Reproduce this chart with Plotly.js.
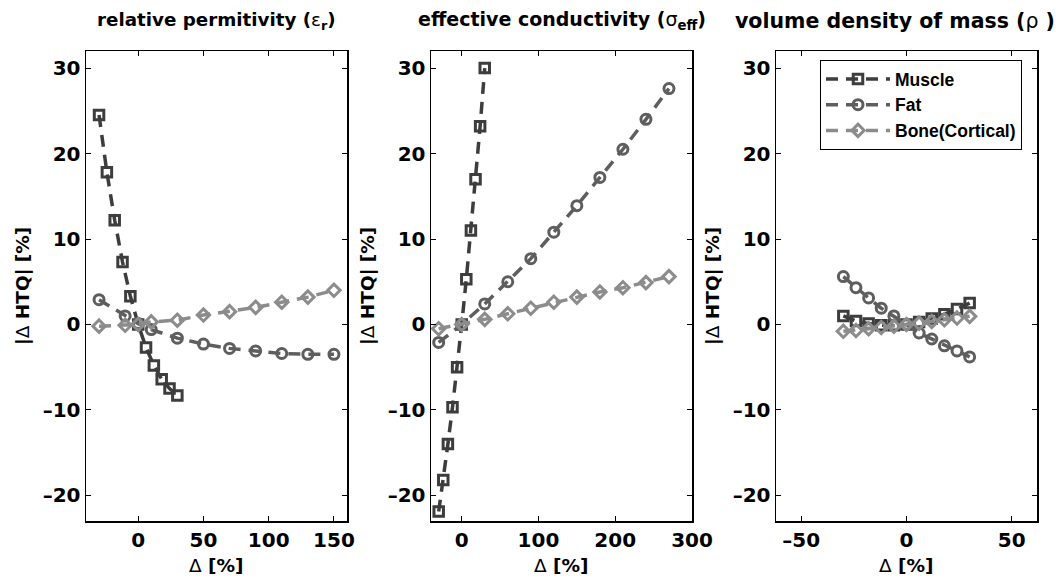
<!DOCTYPE html>
<html>
<head>
<meta charset="utf-8">
<script src="https://cdn.plot.ly/plotly-3.0.1.min.js"></script>
<style>html,body{margin:0;padding:0;background:#fff;}#chart{width:1056px;height:583px;}</style>
</head>
<body>
<div id="chart"></div>
<script>
// ---------- data ----------
const seriesNames = ['Muscle', 'Fat', 'Bone(Cortical)'];
const panelTitles = ['relative permitivity (<span style="font-weight:normal">ε</span><sub>r</sub>)',
                     'effective conductivity (<span style="font-weight:normal">σ</span><sub>eff</sub>)',
                     'volume density of mass (<span style="font-weight:normal">ρ</span> )'];

// Muscle deviations (all panels)
const muscleDelta = [-30, -24, -18, -12, -6, 0, 6, 12, 18, 24, 30];

// Panel 1: relative permittivity
const epsOtherDelta = [-30, -10, 0, 10, 30, 50, 70, 90, 110, 130, 150];
const epsMuscle = [24.5, 17.8, 12.2, 7.3, 3.3, 0, -2.7, -4.8, -6.4, -7.5, -8.3];
const epsFat    = [2.9, 1.0, 0.1, -0.6, -1.6, -2.3, -2.8, -3.1, -3.4, -3.5, -3.5];
const epsBone   = [-0.2, -0.1, 0, 0.3, 0.5, 1.1, 1.5, 2.0, 2.6, 3.2, 4.0];

// Panel 2: effective conductivity
const sigOtherDelta = [-30, 0, 30, 60, 90, 120, 150, 180, 210, 240, 270];
const sigMuscle = [-21.9, -18.2, -14.0, -9.7, -5.0, 0, 5.3, 11.0, 17.0, 23.2, 30.0];
const sigFat    = [-2.1, 0, 2.4, 5.0, 7.7, 10.8, 13.9, 17.2, 20.5, 24.0, 27.6];
const sigBone   = [-0.5, 0, 0.6, 1.25, 1.9, 2.6, 3.2, 3.8, 4.3, 4.9, 5.6];

// Panel 3: volume density of mass
const rhoDelta  = [-30, -24, -18, -12, -6, 0, 6, 12, 18, 24, 30];
const rhoMuscle = [1.0, 0.4, 0.1, -0.1, -0.1, 0, 0.3, 0.7, 1.2, 1.8, 2.5];
const rhoFat    = [5.6, 4.3, 3.1, 1.9, 1.0, 0, -1.0, -1.7, -2.5, -3.1, -3.8];
const rhoBone   = [-0.8, -0.7, -0.5, -0.35, -0.2, 0, 0.15, 0.35, 0.55, 0.75, 0.95];

const yTickVals = [-20, -10, 0, 10, 20, 30];
const xTicks1 = [0, 50, 100, 150];
const xTicks2 = [0, 100, 200, 300];
const xTicks3 = [-50, 0, 50];

// ---------- styling ----------
const WIDE = 'DejaVu Sans, Verdana, sans-serif';
const NARROW = 'Liberation Sans, Arial, Helvetica, sans-serif';
const colors = ['#3d3d3d', '#5e5e5e', '#8c8c8c'];
const symbols = ['square-open', 'circle-open', 'diamond-open'];
const msizes = [9.5, 10, 9.5];

function tr(x, y, i, xa, ya, showLegend) {
  return {
    x: x, y: y, type: 'scatter', mode: 'lines+markers',
    name: seriesNames[i], legendgroup: seriesNames[i], showlegend: showLegend,
    xaxis: xa, yaxis: ya,
    line: {color: colors[i], width: 3.5, dash: '12px,8px'},
    marker: {symbol: symbols[i], size: msizes[i], color: colors[i], line: {color: colors[i], width: 3}},
    hoverinfo: 'x+y'
  };
}

const data = [
  tr(muscleDelta, epsMuscle, 0, 'x', 'y', true),
  tr(epsOtherDelta, epsFat, 1, 'x', 'y', true),
  tr(epsOtherDelta, epsBone, 2, 'x', 'y', true),
  tr(muscleDelta, sigMuscle, 0, 'x2', 'y2', false),
  tr(sigOtherDelta, sigFat, 1, 'x2', 'y2', false),
  tr(sigOtherDelta, sigBone, 2, 'x2', 'y2', false),
  tr(rhoDelta, rhoMuscle, 0, 'x3', 'y3', false),
  tr(rhoDelta, rhoFat, 1, 'x3', 'y3', false),
  tr(rhoDelta, rhoBone, 2, 'x3', 'y3', false)
];

const tickFont = {family: WIDE, size: 20, color: '#000', weight: 'bold'};
const fmt = v => (v < 0 ? '\u2013' + Math.abs(v) : String(v));
function xax(domain, range, ticks, anchor) {
  return {domain: domain, range: range, tickvals: ticks, ticktext: ticks.map(fmt),
    ticks: 'inside', ticklen: 5, tickwidth: 1, tickcolor: '#000',
    showline: true, linecolor: '#000', linewidth: 1.5, mirror: 'ticks',
    showgrid: false, zeroline: false, tickfont: tickFont, anchor: anchor, automargin: false};
}
function yax(range, anchor) {
  return {domain: [0, 1], range: range, tickvals: yTickVals, ticktext: yTickVals.map(fmt),
    ticks: 'inside', ticklen: 5, tickwidth: 1, tickcolor: '#000',
    showline: true, linecolor: '#000', linewidth: 1.5, mirror: 'ticks',
    showgrid: false, zeroline: false, tickfont: tickFont, anchor: anchor, automargin: false};
}

const d1 = [0, 261/951], d2 = [345/951, 606/951], d3 = [690/951, 1];
const yRange = [-23, 32];

const titleSizes = [18.3, 19, 20.5];
const labelFont = {family: WIDE, size: 18.5, color: '#000', weight: 'bold'};
const annotations = [];
const xrefs = ['x domain', 'x2 domain', 'x3 domain'];
const titleX = [0.5, 0.5, 0.456];
for (let i = 0; i < 3; i++) {
  annotations.push({xref: xrefs[i], yref: 'paper', x: titleX[i], y: 1.064, xanchor: 'center', yanchor: 'middle',
    text: panelTitles[i], showarrow: false,
    font: {family: WIDE, size: titleSizes[i], color: '#000', weight: 'bold'}});
  annotations.push({xref: xrefs[i], yref: 'paper', x: 0.5, y: -0.094, xanchor: 'center', yanchor: 'middle',
    text: '<span style="font-weight:normal">Δ</span> [%]', showarrow: false, font: labelFont});
  annotations.push({xref: xrefs[i], yref: 'paper', x: -0.245, y: 0.5, xanchor: 'center', yanchor: 'middle', textangle: -90,
    text: '|<span style="font-weight:normal">Δ</span> HTQ| [%]', showarrow: false, font: labelFont});
}

const layout = {
  width: 1056, height: 583,
  margin: {l: 86, r: 19, t: 51, b: 62},
  paper_bgcolor: '#fff', plot_bgcolor: '#fff',
  font: {family: NARROW, color: '#000'},
  xaxis: xax(d1, [-40, 160], xTicks1, 'y'),
  yaxis: yax(yRange, 'x'),
  xaxis2: xax(d2, [-40, 300], xTicks2, 'y2'),
  yaxis2: yax(yRange, 'x2'),
  xaxis3: xax(d3, [-62, 62], xTicks3, 'y3'),
  yaxis3: yax(yRange, 'x3'),
  showlegend: true,
  legend: {x: (820 - 86) / 951, y: 1 - (60 - 51) / 470, xanchor: 'left', yanchor: 'top',
    xref: 'paper', yref: 'paper',
    bgcolor: '#fff', bordercolor: '#000', borderwidth: 1,
    font: {family: NARROW, size: 17.5, color: '#000', weight: 'bold'},
    itemwidth: 64, tracegroupgap: 0, traceorder: 'normal'},
  annotations: annotations
};

Plotly.newPlot('chart', data, layout, {displayModeBar: false, staticPlot: true});
</script>
</body>
</html>
